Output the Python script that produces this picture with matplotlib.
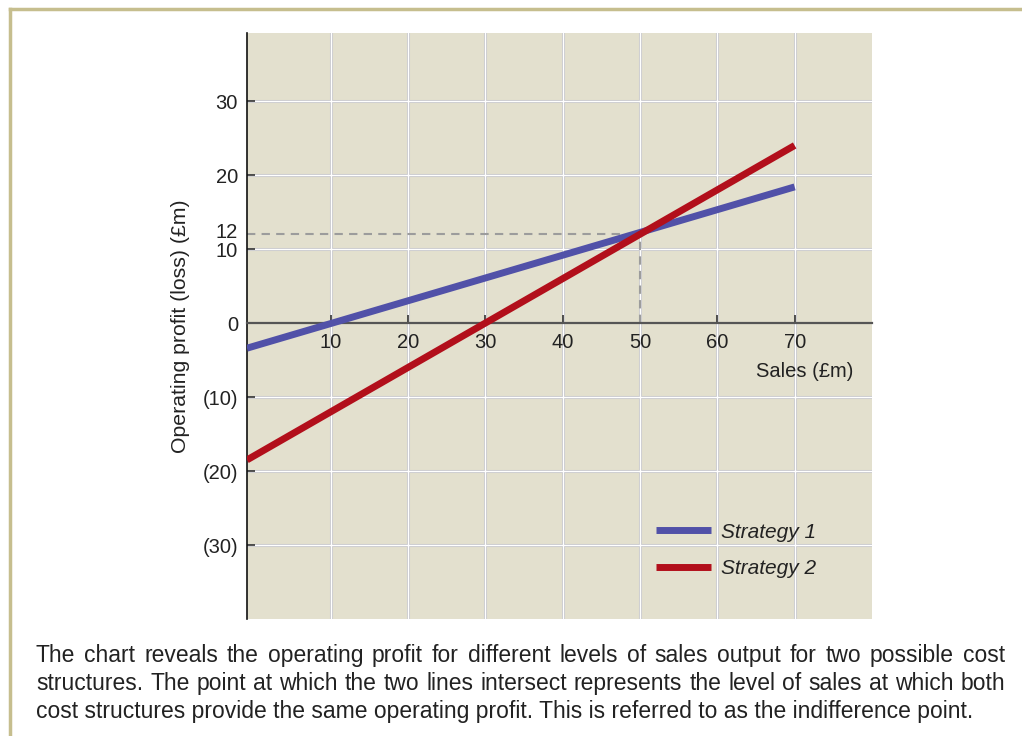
import matplotlib.pyplot as plt
from matplotlib.lines import Line2D
from matplotlib.transforms import ScaledTranslation

plt.rcParams["font.family"] = ["Liberation Sans", "DejaVu Sans"]

# sales (£m) and operating profit (£m) for the two cost structures
sales = [-0.8, 70]
strategy_1 = [-3.4, 18.4]
strategy_2 = [-18.5, 24]
indifference_sales = 50
indifference_profit = 12

x_ticks = [10, 20, 30, 40, 50, 60, 70]
y_ticks = [-30, -20, -10, 0, 10, 12, 20, 30]
y_tick_labels = ["(30)", "(20)", "(10)", "0", "10", "12", "20", "30"]
grid_y = [-30, -20, -10, 10, 20, 30]

caption = [
    "The chart reveals the operating profit for different levels of sales output for two possible cost",
    "structures. The point at which the two lines intersect represents the level of sales at which both",
    "cost structures provide the same operating profit. This is referred to as the indifference point.",
]

BLUE = "#5151a8"
RED = "#b20f1b"
TEXT = "#222222"
W, H = 1022, 736

fig = plt.figure(figsize=(W / 100, H / 100), dpi=100)
ax = fig.add_axes([247 / W, 1 - 619 / H, 625 / W, 586 / H])
ax.set_facecolor("#e3e0ce")
ax.set_xlim(-0.8, 80)
ax.set_ylim(-40, 39.2)

# grid: pale grey edge with white core
for x in x_ticks:
    ax.axvline(x, color="#c9c9cc", lw=2.2, zorder=1)
    ax.axvline(x, color="white", lw=0.9, zorder=1.1)
for y in grid_y:
    ax.axhline(y, color="#c9c9cc", lw=2.2, zorder=1)
    ax.axhline(y, color="white", lw=0.9, zorder=1.1)

# indifference point guides
ax.plot([-0.8, indifference_sales], [indifference_profit, indifference_profit],
        color="#9c9c9c", lw=1.5, ls=(0, (4, 3)), zorder=2)
ax.plot([indifference_sales, indifference_sales], [0, indifference_profit],
        color="#9c9c9c", lw=1.5, ls=(0, (4, 3)), zorder=2)

ax.plot(sales, strategy_1, color=BLUE, lw=5, solid_capstyle="butt", zorder=3)
ax.plot(sales, strategy_2, color=RED, lw=5, solid_capstyle="butt", zorder=4)

for side in ["top", "right"]:
    ax.spines[side].set_visible(False)
ax.spines["left"].set_color("#111111")
ax.spines["left"].set_linewidth(1.2)
ax.spines["bottom"].set_position(("data", 0))
ax.spines["bottom"].set_color("#555555")
ax.spines["bottom"].set_linewidth(1.6)
ax.spines["bottom"].set_zorder(2.5)

ax.set_xticks(x_ticks)
ax.set_xticklabels([str(v) for v in x_ticks])
ax.set_yticks(y_ticks)
ax.set_yticklabels(y_tick_labels)
ax.tick_params(axis="x", direction="in", length=6, width=1.2, color="#333333",
               pad=7.5, labelsize=14.5, labelcolor=TEXT)
ax.tick_params(axis="y", direction="in", length=6, width=1.2, color="#333333",
               pad=6.5, labelsize=14.5, labelcolor=TEXT)

# lift the "12" label a little so it clears "10"
for lab in ax.get_yticklabels():
    if lab.get_text() == "12":
        lab.set_transform(lab.get_transform()
                          + ScaledTranslation(0, 3 / 72, fig.dpi_scale_trans))

ax.set_ylabel("Operating profit (loss) (£m)", fontsize=15.3, color=TEXT)
ax.yaxis.set_label_coords(-0.092, 0.5)
ax.set_xlabel("Sales (£m)", fontsize=14.5, color=TEXT, ha="right", va="center")
ax.xaxis.set_label_coords(0.97, 0.423)

handles = [Line2D([], [], color=BLUE, lw=5, solid_capstyle="butt"),
           Line2D([], [], color=RED, lw=5, solid_capstyle="butt")]
leg = ax.legend(handles, ["Strategy 1", "Strategy 2"], loc="center left",
                bbox_to_anchor=(0.655, 0.117), frameon=False, borderpad=0,
                borderaxespad=0, handlelength=2.6, handletextpad=0.5,
                labelspacing=0.85, prop={"size": 15, "style": "italic"})
for t in leg.get_texts():
    t.set_color(TEXT)

# olive frame along the top and left edges
fig.add_artist(Line2D([10 / W, 1], [1 - 9 / H, 1 - 9 / H],
                      color="#c6be8e", lw=2.5, transform=fig.transFigure))
fig.add_artist(Line2D([10 / W, 10 / W], [0, 1 - 9 / H],
                      color="#c6be8e", lw=2.5, transform=fig.transFigure))

# caption, first two lines justified between the margins
renderer = fig.canvas.get_renderer()
left, right = 36, 1005
cap_size = 16.5
for i, line in enumerate(caption):
    y = 1 - (662 + 28 * i) / H
    if i == len(caption) - 1:
        fig.text(left / W, y, line, fontsize=cap_size, color=TEXT,
                 ha="left", va="baseline")
        continue
    words = line.split(" ")
    texts = [fig.text(0, y, w, fontsize=cap_size, color=TEXT, ha="left",
                      va="baseline") for w in words]
    widths = [t.get_window_extent(renderer).width for t in texts]
    gap = (right - left - sum(widths)) / (len(words) - 1)
    x = left
    for t, w in zip(texts, widths):
        t.set_x(x / W)
        x += w + gap

fig.savefig("out.png", dpi=100)
